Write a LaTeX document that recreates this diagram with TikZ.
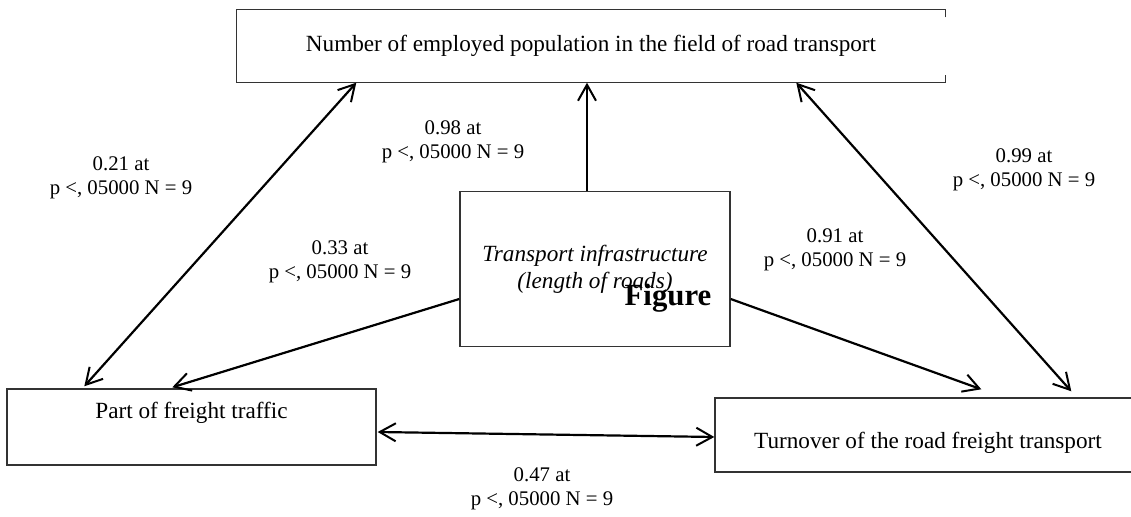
\documentclass[tikz,border=0pt]{standalone}
\usepackage{fontspec}
\setmainfont{Liberation Serif}
\usetikzlibrary{arrows.meta,calc}

\tikzset{
  box/.style={draw=black!80, line width=0.7pt, inner sep=0pt, align=center,
    font=\fontsize{11.6}{14}\selectfont},
  lbl/.style={align=center, inner sep=0pt, font=\fontsize{10.4}{12}\selectfont},
  barb/.tip={Straight Barb[length=8pt,width=9pt,line width=1pt]},
  link/.style={line width=1.1pt, -{barb}},
  linkboth/.style={line width=1.1pt, {barb}-{barb}}
}

\begin{document}
\begin{tikzpicture}[x=0.5pt,y=-0.5pt]
  \useasboundingbox (0,0) rectangle (1131,517);
  \node[box, draw=none, minimum width=354pt, minimum height=36pt] (emp) at (591,46)
    {Number of employed population in the field of road transport};
  \draw[draw=black!80, line width=0.7pt]
    ([yshift=-4pt]emp.north east) -- (emp.north east) -- (emp.north west)
    -- (emp.south west) -- (emp.south east) -- ([yshift=4pt]emp.south east);
  \node[box, minimum width=135pt, minimum height=77.5pt, font=\fontsize{11.6}{13.5}\selectfont\itshape] (infra) at (595,269)
    {Transport infrastructure\\(length of roads)};
  \node[font=\fontsize{15.4}{16}\selectfont\bfseries, inner sep=0pt] (fig) at (668,298) {Figure};
  \node[box, minimum width=184.5pt, minimum height=38pt, text depth=16.5pt] (part) at (191.5,427)
    {Part of freight traffic};
  \node[box, minimum width=213pt, minimum height=37pt, text height=15.9pt] (turn) at (928,435)
    {Turnover of the road freight transport};

  \draw[linkboth] ($(part.north west)+(78,-2)$) -- ($(emp.south west)+(120,0)$);
  \draw[link] ($(infra.west)+(0,30)$) -- ($(part.north west)+(166,-1)$);
  \draw[link] ($(infra.north)+(-8,0)$) -- ($(emp.south)+(-4,0)$);
  \draw[link] ($(infra.east)+(0,30)$) -- ($(turn.north west)+(267,-8)$);
  \draw[linkboth] ($(emp.south west)+(560,0)$) -- ($(turn.north west)+(357,-6)$);
  \draw[linkboth] ($(part.east)+(1,5)$) -- ($(turn.west)+(0,2)$);

  \node[lbl] (r21) at (121,178) {0.21 at\\p <, 05000 N = 9};
  \node[lbl] (r98) at (453,142) {0.98 at\\p <, 05000 N = 9};
  \node[lbl] (r33) at (340,262) {0.33 at\\p <, 05000 N = 9};
  \node[lbl] (r91) at (835,250) {0.91 at\\p <, 05000 N = 9};
  \node[lbl] (r99) at (1024,170) {0.99 at\\p <, 05000 N = 9};
  \node[lbl] (r47) at (542,489) {0.47 at\\p <, 05000 N = 9};
\end{tikzpicture}
\end{document}
